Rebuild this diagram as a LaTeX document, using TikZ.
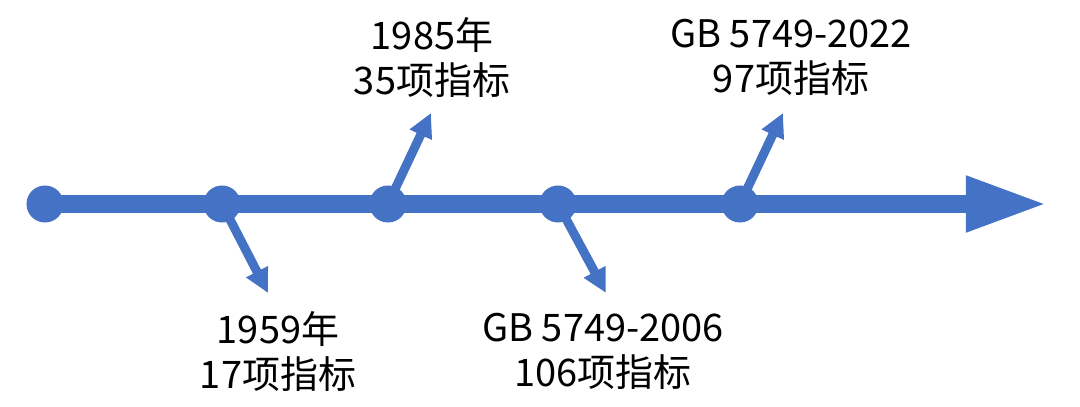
\documentclass[tikz,border=0pt]{standalone}
\usepackage{fontspec}
\setmainfont{Noto Sans CJK SC}
\usetikzlibrary{arrows.meta}
\definecolor{tlblue}{HTML}{4472C4}
\def\dt#1{node[circle, fill=tlblue, inner sep=0pt, minimum size=0.925cm] (#1) {}}

\begin{document}
\begin{tikzpicture}[x=0.025cm, y=-0.025cm,
    lbl/.style={align=center, font=\fontsize{27}{32}\selectfont, inner sep=0pt}]
        \useasboundingbox (0,0) rectangle (1080,407);
        \foreach \x [count=\i from 0] in {45,222,388,558,740}{
        \coordinate (a\i) at (\x,204);
        }
        \coordinate (tip) at (1047,204);
        \coordinate (e1) at (268,293);
        \coordinate (e2) at (431,113);
        \coordinate (e3) at (606,293);
        \coordinate (e4) at (783,113);
        \draw[line width=0.425cm, tlblue, -{Triangle[length=2.03cm, width=1.3cm]}] (a0) -- (tip);
        \foreach \i in {1,...,4}{
          \draw[line width=0.225cm, tlblue, -{Triangle[length=0.6cm, width=0.575cm]}] (a\i) -- (e\i);
        }
        \foreach \i in {0,...,4}{
          \path (a\i) \dt{d\i};
        }
        \node[lbl] (t1) at (278,351) {1959年\\17项指标};
        \node[lbl] (t2) at (432,57) {1985年\\35项指标};
        \node[lbl] (t3) at (603,351) {GB 5749-2006\\106项指标};
        \node[lbl] (t4) at (791,57) {GB 5749-2022\\97项指标};
      \end{tikzpicture}
\end{document}
